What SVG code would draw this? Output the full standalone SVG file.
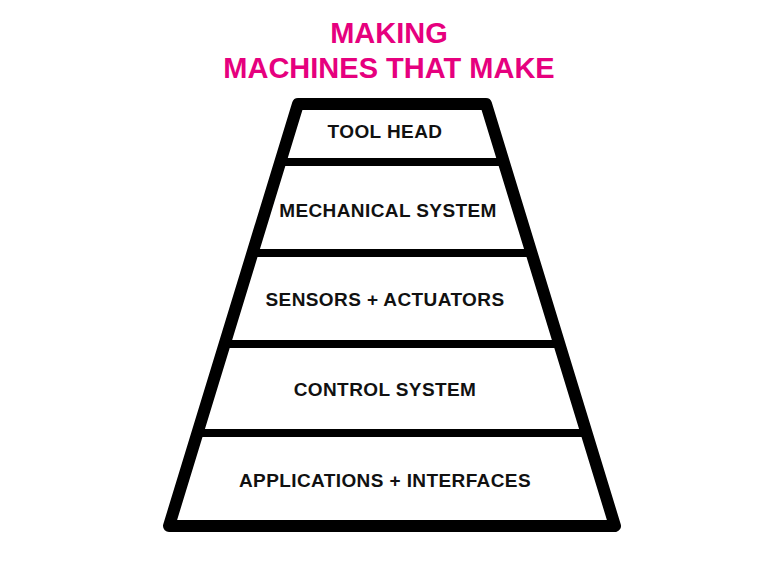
<svg xmlns="http://www.w3.org/2000/svg" width="760" height="564" viewBox="0 0 760 564">
<style>
.title{font-family:"Liberation Sans",Arial,sans-serif;font-weight:bold;font-size:29px;fill:#e6007e;text-anchor:middle}
.lbl{font-family:"Liberation Sans",Arial,sans-serif;font-weight:bold;font-size:19px;letter-spacing:0.4px;fill:#111;text-anchor:middle}
.div{stroke:#000;stroke-width:8;fill:none}
</style>
<rect width="760" height="564" fill="#fff"/>
<g id="title">
<text class="title" x="389" y="43">MAKING</text>
<text class="title" x="389" y="78">MACHINES THAT MAKE</text>
</g>
<g id="pyramid">
<polygon points="298,104 486,104 615,526 169,526" fill="#fff" stroke="#000" stroke-width="12" stroke-linejoin="round"/>
</g>
<g id="connectors">
<line class="div" x1="280" y1="162" x2="504" y2="162"/>
<line class="div" x1="252" y1="253" x2="532" y2="253"/>
<line class="div" x1="224" y1="344" x2="560" y2="344"/>
<line class="div" x1="196" y1="433" x2="588" y2="433"/>
</g>
<g id="tool-head"><text class="lbl" x="385" y="138">TOOL HEAD</text></g>
<g id="mechanical-system"><text class="lbl" x="388" y="217">MECHANICAL SYSTEM</text></g>
<g id="sensors-actuators"><text class="lbl" x="385" y="306">SENSORS + ACTUATORS</text></g>
<g id="control-system"><text class="lbl" x="385" y="396">CONTROL SYSTEM</text></g>
<g id="applications-interfaces"><text class="lbl" x="385" y="487">APPLICATIONS + INTERFACES</text></g>
</svg>
